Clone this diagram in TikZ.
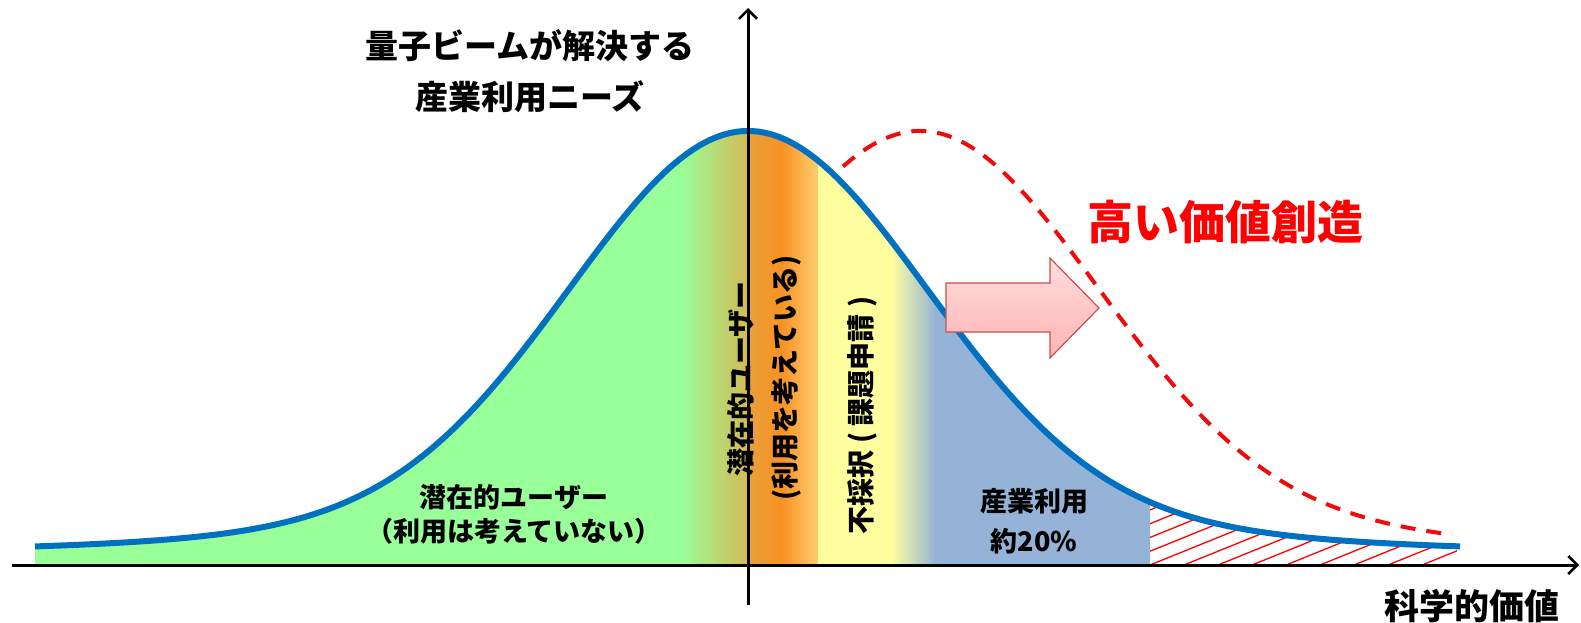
\documentclass[tikz,border=0pt]{standalone}
\usepackage{fontspec}
\newfontfamily\jp{Noto Sans CJK JP}
\usetikzlibrary{arrows.meta}
\definecolor{cgreen}{RGB}{153,255,153}
\definecolor{colive}{RGB}{212,185,85}
\definecolor{corangeA}{RGB}{232,160,60}
\definecolor{corange}{RGB}{248,145,35}
\definecolor{corangeL}{RGB}{253,205,110}
\definecolor{cyellow}{RGB}{255,255,160}
\definecolor{cblue}{RGB}{149,179,215}
\definecolor{cline}{RGB}{0,112,192}
\definecolor{cred}{RGB}{242,10,10}
\definecolor{cpinkT}{RGB}{255,220,220}
\definecolor{cpinkB}{RGB}{255,180,180}
\definecolor{cpinkD}{RGB}{200,80,77}
\newcommand{\fwp}[1]{\makebox[24pt]{#1}}
\tikzset{
  txt/.style n args={2}{font=\jp\bfseries\fontsize{#1}{#2}\selectfont, inner sep=0pt, align=center},
  axis/.style={line width=3pt, -{Straight Barb[length=9pt,width=18pt,line width=2.5pt]}},
  bellline/.style={cline, line width=6pt},
  dashline/.style={cred, line width=4pt, dash pattern=on 15pt off 11pt},
  hatchline/.style={red, line width=1.3pt},
  blockarrow/.style={draw=cpinkD, line width=1.2pt, top color=cpinkT, bottom color=cpinkB}
}
\begin{document}
\begin{tikzpicture}[x=1pt,y=-1pt,
  declare function={bell(\t)=552-421*(0.9*exp(-0.5*((\t-748)/176)^2)+0.1*exp(-0.5*((\t-748)/353)^2));}]
\useasboundingbox (0,0) rectangle (1581,623);
% coloured regions
\begin{scope}
\clip (35,565) -- plot[domain=35:1150,samples=150] (\x,{bell(\x)}) -- (1150,565) -- cycle;
\fill[cgreen] (30,100) rectangle (682,570);
\shade[left color=cgreen,right color=colive] (681,100) rectangle (748,570);
\shade[left color=corangeA,right color=corange] (747,100) rectangle (782,570);
\shade[left color=corange,right color=corangeL] (781,100) rectangle (818,570);
\fill[cyellow] (818,100) rectangle (892,570);
\shade[left color=cyellow,right color=cblue] (891,100) rectangle (936,570);
\fill[cblue] (935,100) rectangle (1155,570);
\end{scope}
% hatched region
\begin{scope}
\clip (1150,565) -- plot[domain=1150:1457,samples=60] (\x,{bell(\x)}) -- (1457,565) -- cycle;
\foreach \i in {-6,...,10} \draw[hatchline] (1150+\i*34,565) -- ++(300,-121.5);
\end{scope}
% curves
\draw[bellline] plot[domain=35:1460,samples=200] (\x,{bell(\x)});
\draw[dashline] plot[domain=843:1452,samples=150] (\x,{bell(\x-172)});
% axes
\coordinate (xs) at (12,565);
\coordinate (xe) at (1579,565);
\coordinate (ys) at (748,605);
\coordinate (ye) at (748,8);
\draw[axis] (xs) -- (xe);
\draw[axis] (ys) -- (ye);
% block arrow
\draw[blockarrow] (946,283) -- (1050,283) -- (1050,258) -- (1099,308) -- (1050,358) -- (1050,332) -- (946,332) -- cycle;
% labels
\node[txt={33}{51}] (ylab) at (530,71) {量子ビームが解決する\\産業利用ニーズ};
\node[txt={27}{34}] (pot) at (514,514) {潜在的ユーザー\\（利用は考えていない）};
\node[txt={28}{34}, rotate=90] (v1) at (741,379) {潜在的ユーザー};
\node[txt={28}{34}, rotate=90] (v2) at (786,378) {(利用を考えている)};
\node[txt={28}{34}, rotate=90] (v3) at (862,412) {不採択\fwp{(}課題申請\fwp{)}};
\node[txt={27}{40}] (ind) at (1034,521) {産業利用\\約20\%};
\node[txt={46}{50}, text=red] (high) at (1225,222) {高い価値創造};
\node[txt={35}{40}] (xlab) at (1472,606) {科学的価値};
\end{tikzpicture}
\end{document}
